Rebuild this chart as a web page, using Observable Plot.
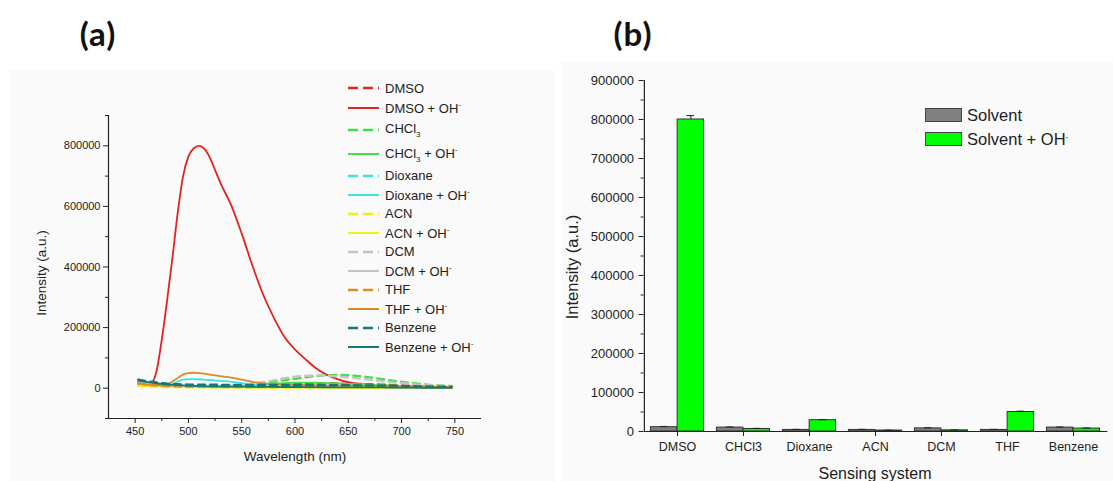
<!DOCTYPE html>
<html>
<head>
<meta charset="utf-8">
<script src="https://cdn.jsdelivr.net/npm/d3@7"></script>
<script src="https://cdn.jsdelivr.net/npm/@observablehq/plot@0.6"></script>
<style>
  html, body { margin: 0; padding: 0; background: #ffffff; }
  #wrap { position: relative; width: 1113px; height: 481px; overflow: hidden;
          font-family: "Liberation Sans", Arial, sans-serif; color: #222; }
  .bg { position: absolute; background: #fafafa; }
  .plot { position: absolute; top: 0; }
  .tag { position: absolute; top: 33px; transform: translate(-50%, -50%);
         font: bold 33px Lato, "Liberation Sans", sans-serif; letter-spacing: 1px; color: #111; }
  .title { position: absolute; white-space: nowrap; color: #222; }
  .legA { position: absolute; left: 345px; top: 78px; font-size: 13px; }
  .legA .row { display: flex; align-items: center; }
  .legA svg { width: 36px; height: 6px; margin-right: 4px; }
  .legA sub { font-size: 8px; vertical-align: -4px; }
  .legA sup, .legB sup { font-size: 8px; vertical-align: 6px; }
  .legB { position: absolute; left: 925px; top: 103px; font-size: 16.5px; }
  .legB .row { display: flex; align-items: center; height: 24px; }
  .legB .box { width: 35px; height: 12px; border: 1px solid #444; margin-right: 5px; }
</style>
</head>
<body>
<div id="wrap">
  <div class="bg" style="left:10px;top:70px;width:545px;height:411px"></div>
  <div class="bg" style="left:562px;top:62px;width:551px;height:419px"></div>
  <div id="plotA" class="plot" style="left:0"></div>
  <div id="plotB" class="plot" style="left:556px"></div>
  <div class="tag" style="left:98px">(a)</div>
  <div class="tag" style="left:633px">(b)</div>
  <div class="title" style="left:295px;top:456px;transform:translate(-50%,-50%);font-size:13.5px">Wavelength (nm)</div>
  <div class="title" style="left:41px;top:273px;transform:translate(-50%,-50%) rotate(-90deg);font-size:13.5px">Intensity (a.u.)</div>
  <div class="title" style="left:572px;top:267px;transform:translate(-50%,-50%) rotate(-90deg);font-size:16.5px">Intensity (a.u.)</div>
  <div class="title" style="left:875px;top:474px;transform:translate(-50%,-50%);font-size:16px">Sensing system</div>
  <div id="legendA" class="legA"></div>
  <div id="legendB" class="legB"></div>
</div>
<script>
// ---- (a) emission spectra, sampled on a shared wavelength grid (nm) ----
const wavelengths = [453,460,465,470,475,480,485,490,495,500,505,510,515,520,525,530,540,550,560,570,580,590,600,610,620,630,640,650,660,670,680,690,700,710,720,730,740,747];

const dmso      = [22000,16000,13000,11000,10000,9500,9000,8500,8200,8000,7800,7600,7400,7200,7000,7000,7000,7500,8000,9000,10000,11500,13000,14000,15000,15500,15500,15000,14000,13000,12000,10500,9000,8000,7000,6000,5500,5000];
const dmsoOH    = [25000,20000,18000,55000,160000,290000,430000,580000,700000,765000,792000,800000,790000,762000,720000,678000,605000,510000,405000,310000,234000,170000,128000,95000,65000,44000,30000,20000,14000,11000,9000,8000,7000,6000,5000,4500,4000,4000];
const chcl3     = [20000,15000,12000,10000,9000,8000,7500,7000,7000,7000,7000,7000,7000,7000,7500,8000,8000,9000,12000,16000,21000,26000,31000,36000,40000,43000,44000,43000,40000,36000,31000,26000,21000,17000,13000,10000,8000,7000];
const chcl3OH   = [18000,14000,12000,10000,8500,7000,6500,6000,5500,5000,5000,5000,5000,5000,5000,5000,6000,8000,10000,12500,15000,17000,18000,18500,18000,17000,16000,14500,13000,11500,10000,9000,8000,7000,6000,5000,4500,4000];
const dioxane   = [12000,9500,8500,8000,7000,6500,6000,5500,5200,5000,4800,4600,4400,4200,4000,3800,3500,3000,2800,2600,2500,2500,2500,2400,2300,2200,2200,2100,2000,2000,2000,2000,2000,1800,1700,1600,1500,1500];
const dioxaneOH = [12000,10000,9000,8000,7500,8000,14000,22000,28000,30000,30000,29500,28500,27000,25500,24000,21000,17000,13000,10000,7500,6000,4500,3500,3000,2500,2200,2000,1800,1700,1600,1500,1400,1300,1200,1100,1000,1000];
const acn       = [8000,6500,5500,5000,4500,4000,3800,3500,3200,3000,2900,2800,2700,2600,2500,2500,2400,2300,2200,2100,2000,2000,2000,1900,1800,1700,1600,1500,1500,1400,1300,1200,1200,1100,1000,1000,1000,1000];
const acnOH     = [10000,8000,7000,6000,5500,5000,4500,4200,4000,3800,3600,3400,3200,3000,2900,2800,2600,2400,2200,2100,2000,2000,2000,1900,1800,1700,1600,1500,1500,1400,1300,1200,1200,1100,1000,1000,1000,1000];
const dcm       = [28000,20000,16000,13000,11500,10000,9500,9000,8500,8000,8000,8000,8000,8000,8500,9000,10000,12000,15000,20000,26000,33000,38000,41000,42000,41000,39000,36000,32000,28000,24000,20000,17000,14000,11000,9000,8000,7000];
const dcmOH     = [22000,16000,13000,11000,9500,8000,7500,7000,6500,6000,6000,5800,5600,5500,5400,5300,5200,5000,5000,5000,5000,5000,5000,4800,4600,4400,4200,4000,3800,3600,3400,3200,3000,2800,2600,2400,2200,2000];
const thf       = [16000,12000,10000,9000,8000,7000,6500,6000,5500,5000,5000,5000,5000,5000,5000,5000,5000,5000,5200,5500,5800,6000,6000,6000,5800,5500,5200,5000,4800,4600,4400,4200,4000,3800,3600,3400,3200,3000];
const thfOH     = [15000,12000,11000,10000,9500,12000,22000,34000,45000,50000,51000,50000,48000,45000,42500,40000,35000,28000,21000,16000,14000,12500,11000,10500,10000,9500,9000,8500,8000,7500,7000,6500,6000,5500,5000,4500,4000,4000];
const benzene   = [28000,24000,21500,19000,17000,15000,14000,13000,12500,12000,12000,11800,11600,11500,11400,11300,11200,11000,11000,11000,11000,11000,11000,10800,10600,10400,10200,10000,9500,9000,8500,8000,7000,6500,6000,5500,5000,5000];
const benzeneOH = [25000,21000,18500,16000,14000,12000,11000,10000,9000,8000,7500,7000,6500,6000,5800,5600,5200,5000,4800,4500,4200,4000,4000,3800,3500,3200,3000,3000,2800,2600,2400,2200,2000,1800,1500,1200,1000,1000];

const xTicksA = [450, 500, 550, 600, 650, 700, 750];
const xMinorA = [475, 525, 575, 625, 675, 725];
const yTicksA = [0, 200000, 400000, 600000, 800000];
const yMinorA = [-100000, 100000, 300000, 500000, 700000, 900000];

// legend order; label HTML, colour, dashed (solvent only) or solid (with OH-)
const seriesA = [
  {label: "DMSO", values: dmso, color: "#e3231d", dashed: true},
  {label: "DMSO + OH<sup>-</sup>", values: dmsoOH, color: "#e3231d", dashed: false},
  {label: "CHCl<sub>3</sub>", values: chcl3, color: "#44dd44", dashed: true},
  {label: "CHCl<sub>3</sub> + OH<sup>-</sup>", values: chcl3OH, color: "#44dd44", dashed: false},
  {label: "Dioxane", values: dioxane, color: "#3ee3e3", dashed: true},
  {label: "Dioxane + OH<sup>-</sup>", values: dioxaneOH, color: "#3ee3e3", dashed: false},
  {label: "ACN", values: acn, color: "#f2f20e", dashed: true},
  {label: "ACN + OH<sup>-</sup>", values: acnOH, color: "#f2f20e", dashed: false},
  {label: "DCM", values: dcm, color: "#c4c4c4", dashed: true},
  {label: "DCM + OH<sup>-</sup>", values: dcmOH, color: "#c4c4c4", dashed: false},
  {label: "THF", values: thf, color: "#dc8a24", dashed: true},
  {label: "THF + OH<sup>-</sup>", values: thfOH, color: "#dc8a24", dashed: false},
  {label: "Benzene", values: benzene, color: "#137878", dashed: true},
  {label: "Benzene + OH<sup>-</sup>", values: benzeneOH, color: "#137878", dashed: false}
];

// ---- (b) peak intensity per solvent ----
const categories   = ["DMSO", "CHCl3", "Dioxane", "ACN", "DCM", "THF", "Benzene"];
const solvent      = [11000, 10000, 4000, 4000, 8000, 4000, 10000];
const solventErr   = [2000, 1500, 1500, 1500, 1500, 1500, 1500];
const solventOH    = [800000, 6500, 29000, 2500, 3000, 50000, 7500];
const solventOHErr = [10000, 1500, 1500, 1000, 1000, 2000, 1500];
const yTicksB = [0, 100000, 200000, 300000, 400000, 500000, 600000, 700000, 800000, 900000];
const yMinorB = [50000, 150000, 250000, 350000, 450000, 550000, 650000, 750000, 850000];

const font = '"Liberation Sans", Arial, sans-serif';

// ---------- panel (a) ----------
const lineMarks = seriesA.map(s =>
  Plot.line(wavelengths.map((w, i) => ({w, v: s.values[i]})), {
    x: "w", y: "v", curve: "monotone-x",
    stroke: s.color,
    strokeWidth: s.dashed ? 2.3 : 1.8,
    strokeDasharray: s.dashed ? "7,5" : null
  })
);

const plotA = Plot.plot({
  width: 556, height: 481,
  marginLeft: 108, marginRight: 75, marginTop: 115, marginBottom: 63,
  style: {background: "transparent", fontFamily: font, fontSize: "11px", color: "#222", overflow: "visible"},
  x: {domain: [425, 775], label: null},
  y: {domain: [-100000, 900000], label: null},
  marks: [
    ...lineMarks,
    Plot.ruleX([425], {stroke: "#222", strokeWidth: 1.2}),
    Plot.ruleY([-100000], {stroke: "#222", strokeWidth: 1.2}),
    Plot.axisX({ticks: xTicksA, tickSize: 5, tickPadding: 4, tickFormat: d => String(d)}),
    Plot.axisX({ticks: xMinorA, tickSize: 3, tickFormat: () => ""}),
    Plot.axisY({ticks: yTicksA, tickSize: 5, tickPadding: 3, tickFormat: d => String(d)}),
    Plot.axisY({ticks: yMinorA, tickSize: 3, tickFormat: () => ""})
  ]
});
document.getElementById("plotA").append(plotA);

// legend for (a)
const legA = document.getElementById("legendA");
seriesA.forEach((s, i) => {
  const row = document.createElement("div");
  row.className = "row";
  row.style.height = (i >= 2 && i <= 3) ? "24px" : (i < 2 ? "20px" : "19px");
  const dash = s.dashed ? 'stroke-dasharray="10,5"' : "";
  row.innerHTML = `<svg viewBox="0 0 36 6"><line x1="3" x2="34" y1="3" y2="3" stroke="${s.color}" stroke-width="${s.dashed ? 2.4 : 2}" ${dash}/></svg><span>${s.label}</span>`;
  legA.append(row);
});

// ---------- panel (b) ----------
const widthB = 557, mlB = 87.6, mrB = 5.6;
const band = (widthB - mlB - mrB) / categories.length;
const barW = 26.7;
const outer = (band - 2 * barW) / 2;
const shift = barW / 2;           // offset of each bar's centre from the group centre
const capHalf = 4;

const rowsB = categories.map((c, i) => ({
  cat: c, solvent: solvent[i], solventErr: solventErr[i],
  solventOH: solventOH[i], solventOHErr: solventOHErr[i]
}));

const plotB = Plot.plot({
  width: widthB, height: 481,
  marginLeft: mlB, marginRight: mrB, marginTop: 80, marginBottom: 50,
  style: {background: "transparent", fontFamily: font, fontSize: "13px", color: "#222", overflow: "visible"},
  x: {domain: categories, padding: 0, label: null},
  y: {domain: [0, 900000], label: null},
  marks: [
    Plot.barY(rowsB, {x: "cat", y: "solvent", fill: "#808080", stroke: "#333", strokeWidth: 1,
      insetLeft: outer, insetRight: band - outer - barW}),
    Plot.barY(rowsB, {x: "cat", y: "solventOH", fill: "#00ff00", stroke: "#333", strokeWidth: 1,
      insetLeft: outer + barW, insetRight: outer}),
    Plot.ruleX(rowsB, {x: "cat", y1: "solvent", y2: d => d.solvent + d.solventErr, dx: -shift, stroke: "#222"}),
    Plot.tickY(rowsB, {x: "cat", y: d => d.solvent + d.solventErr, dx: -shift, stroke: "#222",
      insetLeft: band / 2 - capHalf, insetRight: band / 2 - capHalf}),
    Plot.ruleX(rowsB, {x: "cat", y1: "solventOH", y2: d => d.solventOH + d.solventOHErr, dx: shift, stroke: "#222"}),
    Plot.tickY(rowsB, {x: "cat", y: d => d.solventOH + d.solventOHErr, dx: shift, stroke: "#222",
      insetLeft: band / 2 - capHalf, insetRight: band / 2 - capHalf}),
    Plot.ruleY([0], {stroke: "#222", strokeWidth: 1.2}),
    Plot.ruleX([categories[0]], {dx: -band / 2, stroke: "#222", strokeWidth: 1.2}),
    Plot.axisX({tickSize: 5, tickPadding: 6, fontSize: 12.5}),
    Plot.axisY({ticks: yTicksB, tickSize: 5, tickPadding: 5, tickFormat: d => String(d)}),
    Plot.axisY({ticks: yMinorB, tickSize: 3, tickFormat: () => ""})
  ]
});
document.getElementById("plotB").append(plotB);

// legend for (b)
const legB = document.getElementById("legendB");
[["Solvent", "#808080"], ["Solvent + OH<sup>-</sup>", "#00ff00"]].forEach(([label, color]) => {
  const row = document.createElement("div");
  row.className = "row";
  row.innerHTML = `<div class="box" style="background:${color}"></div><span>${label}</span>`;
  legB.append(row);
});
</script>
</body>
</html>
